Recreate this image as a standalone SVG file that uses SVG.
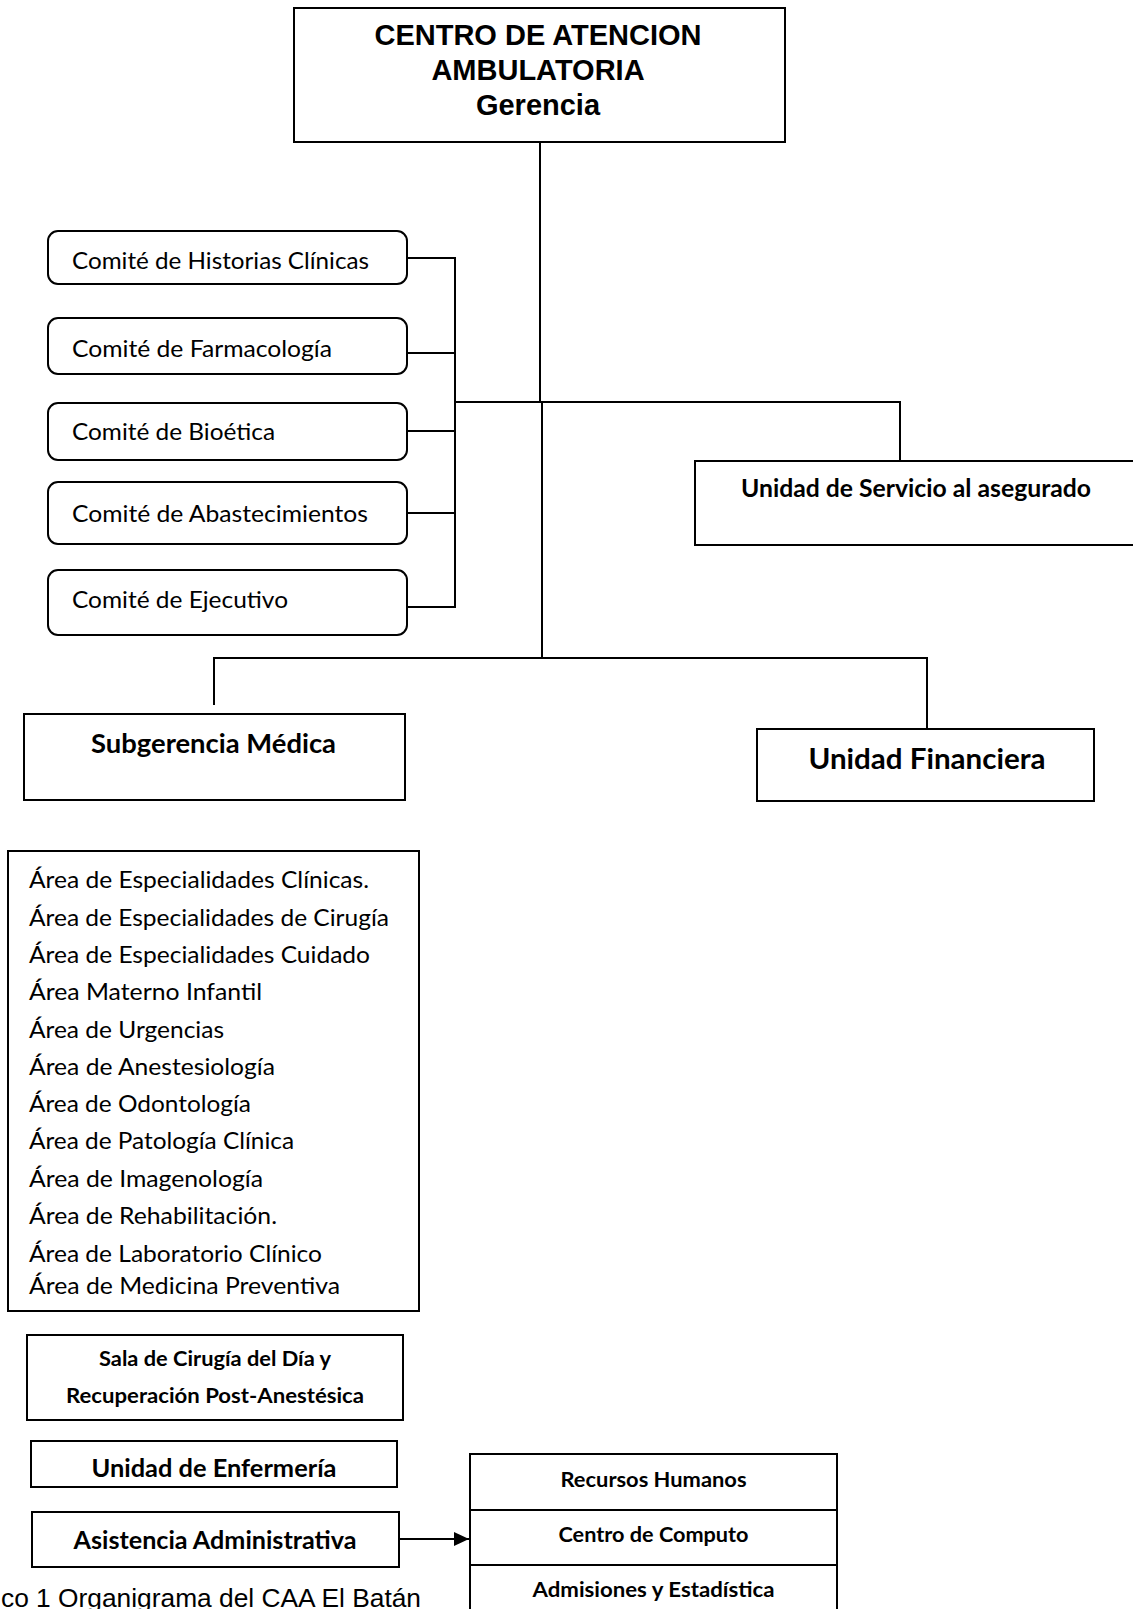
<svg xmlns="http://www.w3.org/2000/svg" width="1133" height="1609" viewBox="0 0 1133 1609">
<defs>
<style>
.box{fill:#fff;stroke:#000;stroke-width:2}
.rbox{fill:#fff;stroke:#000;stroke-width:2}
.ln{fill:none;stroke:#000;stroke-width:2}
.t{font-family:Lato,"Open Sans",sans-serif;font-size:24px;fill:#000}
.b{font-family:Lato,"Open Sans",sans-serif;font-weight:bold;fill:#000}
.m{text-anchor:middle}
.ar{font-family:"Liberation Sans",Arial,sans-serif;font-weight:bold;font-size:29px;fill:#000;text-anchor:middle}
.cap{font-family:"Liberation Sans",Arial,sans-serif;font-size:26px;fill:#000}
</style>
<marker id="arr" markerWidth="16" markerHeight="14" refX="15" refY="7" orient="auto" markerUnits="userSpaceOnUse">
<path d="M0,0 L15,7 L0,14 Z" fill="#000"/>
</marker>
</defs>
<rect width="1133" height="1609" fill="#fff"/>

<g id="connectors">
<path class="ln" d="M540,142 V402"/>
<path class="ln" d="M455,402 H900 V461"/>
<path class="ln" d="M542,402 V658"/>
<path class="ln" d="M407,258 H455 V607 H407"/>
<path class="ln" d="M407,353 H455"/>
<path class="ln" d="M407,431 H455"/>
<path class="ln" d="M407,513 H455"/>
<path class="ln" d="M214,705 V658 H927 V729"/>
<path class="ln" d="M400,1539 H469" marker-end="url(#arr)"/>
</g>

<g id="gerencia">
<rect class="box" x="294" y="8" width="491" height="134"/>
<text class="ar" x="538" y="45">CENTRO DE ATENCION</text>
<text class="ar" x="538" y="80">AMBULATORIA</text>
<text class="ar" x="538" y="115">Gerencia</text>
</g>

<g id="comite-historias">
<rect class="rbox" x="48" y="231" width="359" height="53" rx="10"/>
<text class="t" x="72" y="269" textLength="297" lengthAdjust="spacingAndGlyphs">Comité de Historias Clínicas</text>
</g>
<g id="comite-farmacologia">
<rect class="rbox" x="48" y="318" width="359" height="56" rx="10"/>
<text class="t" x="72" y="357" textLength="260" lengthAdjust="spacingAndGlyphs">Comité de Farmacología</text>
</g>
<g id="comite-bioetica">
<rect class="rbox" x="48" y="403" width="359" height="57" rx="10"/>
<text class="t" x="72" y="440" textLength="203" lengthAdjust="spacingAndGlyphs">Comité de Bioética</text>
</g>
<g id="comite-abastecimientos">
<rect class="rbox" x="48" y="482" width="359" height="62" rx="10"/>
<text class="t" x="72" y="522" textLength="296" lengthAdjust="spacingAndGlyphs">Comité de Abastecimientos</text>
</g>
<g id="comite-ejecutivo">
<rect class="rbox" x="48" y="570" width="359" height="65" rx="10"/>
<text class="t" x="72" y="608" textLength="216" lengthAdjust="spacingAndGlyphs">Comité de Ejecutivo</text>
</g>

<g id="servicio-asegurado">
<rect class="box" x="695" y="461" width="460" height="84"/>
<text class="b m" x="916" y="497" font-size="24" textLength="350" lengthAdjust="spacingAndGlyphs">Unidad de Servicio al asegurado</text>
</g>

<g id="subgerencia-medica">
<rect class="box" x="24" y="714" width="381" height="86"/>
<text class="b m" x="213.5" y="753" font-size="26.5" textLength="245" lengthAdjust="spacingAndGlyphs">Subgerencia Médica</text>
</g>

<g id="unidad-financiera">
<rect class="box" x="757" y="729" width="337" height="72"/>
<text class="b m" x="927" y="769" font-size="28.5" textLength="237" lengthAdjust="spacingAndGlyphs">Unidad Financiera</text>
</g>

<g id="areas">
<rect class="box" x="8" y="851" width="411" height="460"/>
<text class="t" x="29" y="888" textLength="340" lengthAdjust="spacingAndGlyphs">Área de Especialidades Clínicas.</text>
<text class="t" x="29" y="925.5" textLength="360" lengthAdjust="spacingAndGlyphs">Área de Especialidades de Cirugía</text>
<text class="t" x="29" y="963" textLength="341" lengthAdjust="spacingAndGlyphs">Área de Especialidades Cuidado</text>
<text class="t" x="29" y="1000" textLength="233" lengthAdjust="spacingAndGlyphs">Área Materno Infantil</text>
<text class="t" x="29" y="1037.5" textLength="195" lengthAdjust="spacingAndGlyphs">Área de Urgencias</text>
<text class="t" x="29" y="1074.5" textLength="246" lengthAdjust="spacingAndGlyphs">Área de Anestesiología</text>
<text class="t" x="29" y="1112" textLength="222" lengthAdjust="spacingAndGlyphs">Área de Odontología</text>
<text class="t" x="29" y="1149" textLength="265" lengthAdjust="spacingAndGlyphs">Área de Patología Clínica</text>
<text class="t" x="29" y="1186.5" textLength="234" lengthAdjust="spacingAndGlyphs">Área de Imagenología</text>
<text class="t" x="29" y="1224" textLength="248" lengthAdjust="spacingAndGlyphs">Área de Rehabilitación.</text>
<text class="t" x="29" y="1261.5" textLength="293" lengthAdjust="spacingAndGlyphs">Área de Laboratorio Clínico</text>
<text class="t" x="29" y="1294" textLength="311" lengthAdjust="spacingAndGlyphs">Área de Medicina Preventiva</text>
</g>

<g id="sala-cirugia">
<rect class="box" x="27" y="1335" width="376" height="85"/>
<text class="b m" x="215" y="1366" font-size="21.5" textLength="232" lengthAdjust="spacingAndGlyphs">Sala de Cirugía del Día y</text>
<text class="b m" x="215" y="1402.5" font-size="21.5" textLength="298" lengthAdjust="spacingAndGlyphs">Recuperación Post-Anestésica</text>
</g>

<g id="enfermeria">
<rect class="box" x="31" y="1441" width="366" height="46"/>
<text class="b m" x="214" y="1477" font-size="24.5" textLength="245" lengthAdjust="spacingAndGlyphs">Unidad de Enfermería</text>
</g>

<g id="asistencia">
<rect class="box" x="32" y="1512" width="367" height="55"/>
<text class="b m" x="215" y="1548.5" font-size="24.5" textLength="283" lengthAdjust="spacingAndGlyphs">Asistencia Administrativa</text>
</g>

<g id="admin-units">
<rect class="box" x="470" y="1454" width="367" height="56"/>
<rect class="box" x="470" y="1510" width="367" height="55"/>
<rect class="box" x="470" y="1565" width="367" height="60"/>
<text class="b m" x="653.5" y="1487" font-size="21" textLength="186" lengthAdjust="spacingAndGlyphs">Recursos Humanos</text>
<text class="b m" x="653.5" y="1542" font-size="21" textLength="190" lengthAdjust="spacingAndGlyphs">Centro de Computo</text>
<text class="b m" x="653.5" y="1597" font-size="21" textLength="242" lengthAdjust="spacingAndGlyphs">Admisiones y Estadística</text>
</g>

<text class="cap" x="1" y="1607" textLength="420" lengthAdjust="spacingAndGlyphs">co 1 Organigrama del CAA El Batán</text>
</svg>
